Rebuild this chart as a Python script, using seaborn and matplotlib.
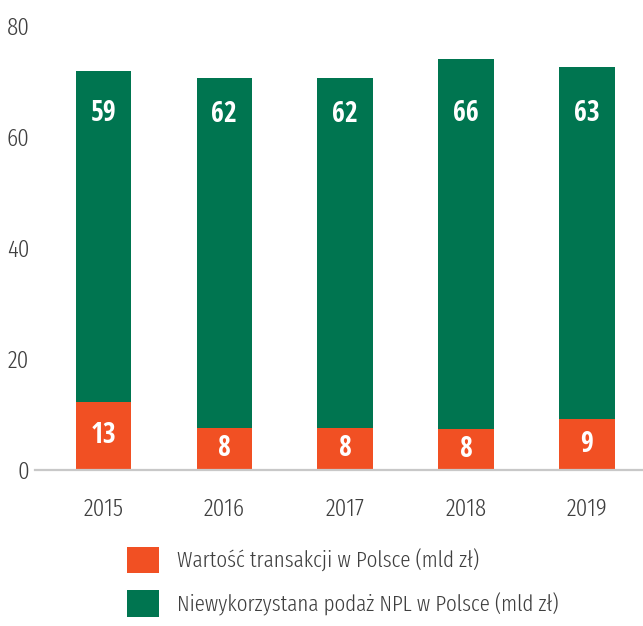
import matplotlib
matplotlib.use("Agg")
import matplotlib.pyplot as plt
import seaborn as sns
from matplotlib.patches import Patch

years = ["2015", "2016", "2017", "2018", "2019"]
transakcje = [12.3, 7.6, 7.6, 7.4, 9.2]          # bar heights
niewykorzystana = [59.6, 63.0, 63.0, 66.6, 63.4]
transakcje_lbl = ["13", "8", "8", "8", "9"]
niewykorzystana_lbl = ["59", "62", "62", "66", "63"]
legend_labels = ["Wartość transakcji w Polsce (mld zł)",
                 "Niewykorzystana podaż NPL w Polsce (mld zł)"]

orange = "#F15023"
green = "#007550"
grey_txt = "#3f3f3f"

sns.set_style("white")
plt.rcParams['font.family'] = ['Fira Sans Extra Condensed', 'DejaVu Sans']
plt.rcParams['font.weight'] = 300
label_font = ['Open Sans Condensed', 'DejaVu Sans']

fig = plt.figure(figsize=(6.43, 6.26), dpi=100)
ax = fig.add_axes([0.0544, 0.2492, 0.9456, 0.709])

totals = [a + b for a, b in zip(transakcje, niewykorzystana)]
sns.barplot(x=years, y=totals, color=green, width=0.46, saturation=1, linewidth=0, ax=ax)
sns.barplot(x=years, y=transakcje, color=orange, width=0.46, saturation=1, linewidth=0, ax=ax)

for i in range(len(years)):
    ax.text(i, transakcje[i] / 2, transakcje_lbl[i], ha="center", va="center",
            color="white", fontsize=20, fontweight="bold", family=label_font)
    ax.text(i, min(totals[i] - 6.5, 64.3), niewykorzystana_lbl[i], ha="center", va="center",
            color="white", fontsize=20, fontweight="bold", family=label_font)

ax.set_ylim(0, 80)
ax.set_xlim(-0.566, 4.463)
ax.set_yticks([0, 20, 40, 60, 80])
ax.tick_params(axis="y", length=0, pad=4, labelsize=18, labelcolor=grey_txt)
ax.tick_params(axis="x", length=0, pad=20, labelsize=18, labelcolor=grey_txt)
ax.set_xlabel("")
ax.set_ylabel("")
for s in ["left", "right", "top"]:
    ax.spines[s].set_visible(False)
ax.spines["bottom"].set_color("#c8c8c8")
ax.spines["bottom"].set_linewidth(1.6)

handles = [Patch(facecolor=orange, edgecolor="none"),
           Patch(facecolor=green, edgecolor="none")]
leg = fig.legend(handles, legend_labels, loc="upper left",
                 bbox_to_anchor=(127 / 643, 1 - 547 / 626), frameon=False,
                 fontsize=16.5, handlelength=1.4, handleheight=1.4,
                 handletextpad=0.79, labelspacing=0.74, borderpad=0, borderaxespad=0)
for t in leg.get_texts():
    t.set_color(grey_txt)

fig.savefig("out.png", dpi=100)
